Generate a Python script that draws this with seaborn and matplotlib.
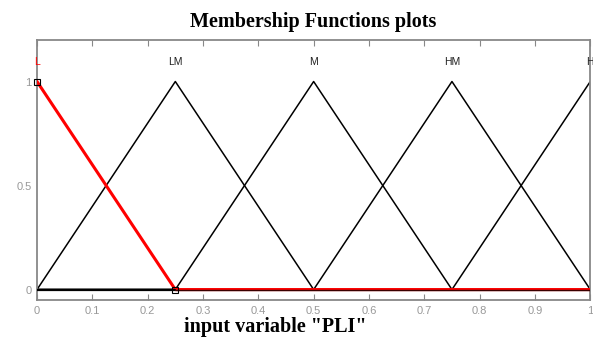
import numpy as np
import pandas as pd
import seaborn as sns
import matplotlib.pyplot as plt

# membership functions of input variable "PLI" (triangular, a-b-c)
mf_names = ['L', 'LM', 'M', 'HM', 'H']
mf_a = [-0.25, 0.0, 0.25, 0.5, 0.75]
mf_b = [0.0, 0.25, 0.5, 0.75, 1.0]
mf_c = [0.25, 0.5, 0.75, 1.0, 1.25]
x_ticks = [0, 0.1, 0.2, 0.3, 0.4, 0.5, 0.6, 0.7, 0.8, 0.9, 1]
y_ticks = [0, 0.5, 1]


def trimf_points(a, b, c):
    # corner points of the triangle clipped to [0, 1]
    xs = [0.0, max(a, 0.0), b, min(c, 1.0), 1.0]
    ys = []
    for x in xs:
        if x <= a or x >= c:
            ys.append(0.0)
        elif x <= b:
            ys.append((x - a) / (b - a))
        else:
            ys.append((c - x) / (c - b))
    return xs, ys


sns.set_style("white")
fig = plt.figure(figsize=(5.93, 3.44), dpi=100)
ax = fig.add_axes([0.0624, 0.128, 0.933, 0.756])

for i, name in enumerate(mf_names):
    xs, ys = trimf_points(mf_a[i], mf_b[i], mf_c[i])
    df = pd.DataFrame({'x': xs, 'y': ys})
    if name == 'L':
        continue
    sns.lineplot(data=df, x='x', y='y', ax=ax, color='black', lw=1.1,
                 estimator=None, sort=False)

# selected MF (red, thick) drawn on top
xs, ys = trimf_points(mf_a[0], mf_b[0], mf_c[0])
df = pd.DataFrame({'x': xs, 'y': ys})
sns.lineplot(data=df, x='x', y='y', ax=ax, color='red', lw=2.2,
             estimator=None, sort=False, zorder=5)
ax.plot([0, 0.25], [0, 0], color='black', lw=1.6, zorder=6)
ax.plot([0.25, 1], [0, 0], color='#3a0000', lw=1.0, zorder=6)
ax.plot([0, mf_b[0] + 0.25], [1, 0], ls='none', marker='s', ms=5,
        mfc='none', mec='black', mew=0.8, zorder=7, clip_on=False)

for i, name in enumerate(mf_names):
    ax.text(mf_b[i], 1.095, name, ha='center', va='center', fontsize=7.5,
            family='Liberation Sans', color='red' if name == 'L' else '#222222')

ax.set_xlim(0, 1)
ax.set_ylim(-0.05, 1.2)
ax.set_xticks(x_ticks)
ax.set_xticklabels([('%g' % t) for t in x_ticks])
ax.set_yticks(y_ticks)
ax.set_yticklabels([('%g' % t) for t in y_ticks])
ax.tick_params(axis='both', direction='in', length=4, color='#888888',
               labelcolor='#999999', labelsize=8, top=True, bottom=True,
               left=False, right=False, pad=4)
for lab in ax.get_xticklabels() + ax.get_yticklabels():
    lab.set_family('Liberation Sans')
for s in ax.spines.values():
    s.set_color('#888888')
    s.set_linewidth(1.3)

ax.set_xlabel('input variable "PLI"', family='Liberation Serif',
              fontweight='bold', fontsize=14.5, color='black')
ax.xaxis.set_label_coords(0.43, -0.065)
ax.set_ylabel('')
ax.set_title('Membership Functions plots', family='Liberation Serif',
             fontweight='bold', fontsize=14.5, pad=9, color='black')

fig.savefig('out.png', dpi=100)
